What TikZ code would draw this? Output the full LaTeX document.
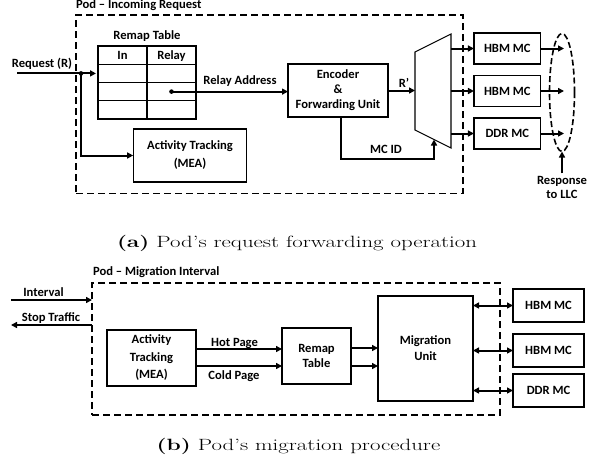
\documentclass[tikz,border=0pt]{standalone}
\usepackage{fontspec}
\newfontfamily\dfont{Carlito}
\usetikzlibrary{arrows.meta,shapes.geometric}
\begin{document}
\begin{tikzpicture}[x=1pt,y=-1pt,
  every node/.style={inner sep=0pt, outer sep=0pt},
  lbl/.style={font=\dfont\bfseries\fontsize{12.6}{15}\selectfont, anchor=base},
  blk/.style={draw, line width=1.1pt, align=center, font=\dfont\bfseries\fontsize{12.6}{15}\selectfont},
  cell/.style={draw, line width=1.1pt, minimum width=49pt, minimum height=18.25pt, text height=8pt, text depth=0pt, font=\dfont\bfseries\fontsize{12.6}{15}\selectfont},
  podbox/.style={draw, line width=1.6pt, dash pattern=on 7pt off 4pt},
  arr/.style={line width=2pt, -{Triangle[length=6pt,width=6pt]}},
  darr/.style={line width=2pt, {Triangle[length=6pt,width=6pt]}-{Triangle[length=6pt,width=6pt]}},
  captext/.style={font=\fontsize{16.3}{19}\selectfont, anchor=base west}
]
\useasboundingbox (0,0) rectangle (591,461);

% ---------------- (a) ----------------
\node[podbox, minimum width=386.7pt, minimum height=178.5pt] (podA) at (269.35,104.25) {};
\node[lbl, anchor=base west] (titleA) at (76,8.5) {Pod – Incoming Request};

\node[lbl] (remapttl) at (147,39) {Remap Table};
\node[cell] (in1) at (122.5,55.1) {In};
\node[cell] (rl1) at (171.5,55.1) {Relay};
\node[cell] (in2) at (122.5,73.4) {};
\node[cell] (rl2) at (171.5,73.4) {};
\node[cell] (in3) at (122.5,91.6) {};
\node[cell] (rl3) at (171.5,91.6) {};
\node[cell] (in4) at (122.5,109.9) {};
\node[cell] (rl4) at (171.5,109.9) {};

\node[lbl] (reqlbl) at (42,67) {Request (R)};
\coordinate (reqin) at (17,73.4);
\coordinate (j1) at (81,73.4);
\draw[arr, shorten >=2pt] (reqin) -- (in2.west);
\fill (j1) circle (2.3pt);

\node[blk, minimum width=113.7pt, minimum height=53pt, font=\dfont\bfseries\fontsize{12.6}{18}\selectfont] (actA) at (190,155.5) {Activity Tracking\\(MEA)};
\draw[arr] (j1) |- (actA.west);

\node[blk, minimum width=100pt, minimum height=53pt] (enc) at (338,90.5) {Encoder\\\&\\Forwarding Unit};
\fill (rl3.center) circle (2.3pt);
\draw[arr] (rl3.center) -- (rl3.center -| enc.west);
\node[lbl] (relaylbl) at (240,84) {Relay Address};

% mux
\coordinate (mtl) at (415,52);
\coordinate (mtr) at (451,34);
\coordinate (mbr) at (451,148);
\coordinate (mbl) at (415,130);
\draw[line width=1.1pt] (mtl) -- (mtr) -- (mbr) -- (mbl) -- cycle;
\coordinate (muxin) at (415,90.5);
\coordinate (muxb) at (434,139.5);
\draw[arr] (enc.east) -- (muxin);
\node[lbl] (rplbl) at (404,87.5) {R’};

\draw[arr] ([xshift=3pt]enc.south) -- ++(0,42) -| (muxb);
\node[lbl] (mcidlbl) at (386,153.5) {MC ID};

% memory controllers
\node[blk, minimum width=66.7pt, minimum height=31pt] (hbmA1) at (507.3,48.5) {HBM MC};
\node[blk, minimum width=66.7pt, minimum height=31pt] (hbmA2) at (507.3,91) {HBM MC};
\node[blk, minimum width=66.7pt, minimum height=31pt] (ddrA) at (507.3,133.5) {DDR MC};
\draw[arr] (hbmA1.west -| mtr) -- (hbmA1.west);
\draw[arr] (hbmA2.west -| mtr) -- (hbmA2.west);
\draw[arr] (ddrA.west -| mtr) -- (ddrA.west);

\node[draw, ellipse, line width=1.6pt, dash pattern=on 6pt off 3pt, minimum width=25pt, minimum height=118pt] (ell) at (562,92.5) {};
\coordinate (e1) at (564,48.5);
\coordinate (e2) at (564,91);
\coordinate (e3) at (564,133.5);
\draw[arr] (hbmA1.east) -- (e1);
\draw[arr] (hbmA2.east) -- (e2);
\draw[arr] (ddrA.east) -- (e3);

\node[lbl, align=center, font=\dfont\bfseries\fontsize{12.6}{14}\selectfont] (resplbl) at (562,198.5) {Response\\to LLC};
\draw[arr, shorten <=3pt] (resplbl.north) -- (ell.south);

\node[captext] (capA) at (117,247) {\scalebox{1.4}[1]{\textbf{(a)} Pod’s request forwarding operation}};

% ---------------- (b) ----------------
\node[podbox, minimum width=408pt, minimum height=132pt] (podB) at (296,349) {};
\node[lbl, anchor=base west] (titleB) at (93,275) {Pod – Migration Interval};

\coordinate (intL) at (11,300);
\coordinate (stopL) at (11,325);
\draw[arr] (intL) -- (intL -| podB.west);
\draw[arr] (stopL -| podB.west) -- (stopL);
\node[lbl] (intlbl) at (43.5,296.5) {Interval};
\node[lbl] (stoplbl) at (51,321) {Stop Traffic};

\node[blk, minimum width=89pt, minimum height=56pt, font=\dfont\bfseries\fontsize{12.6}{17.5}\selectfont] (actB) at (151.5,358) {Activity\\Tracking\\(MEA)};
\node[blk, minimum width=69pt, minimum height=56pt] (remapB) at (316.5,356) {Remap\\Table};
\node[blk, minimum width=95pt, minimum height=105pt, font=\dfont\bfseries\fontsize{12.6}{16}\selectfont] (mig) at (425.5,348.5) {Migration\\Unit};

\draw[arr] ([yshift=9pt]actB.east) -- ([yshift=9pt]actB.east -| remapB.west);
\draw[arr] ([yshift=-8pt]actB.east) -- ([yshift=-8pt]actB.east -| remapB.west);
\node[lbl] (hotlbl) at (234.5,346) {Hot Page};
\node[lbl] (coldlbl) at (234,379.5) {Cold Page};

\draw[arr] ([yshift=8pt]remapB.east) -- ([yshift=8pt]remapB.east -| mig.west);
\draw[arr] ([yshift=-10pt]remapB.east) -- ([yshift=-10pt]remapB.east -| mig.west);

\node[blk, minimum width=71pt, minimum height=33pt] (hbmB1) at (548.5,305.5) {HBM MC};
\node[blk, minimum width=71pt, minimum height=33pt] (hbmB2) at (548.5,350.5) {HBM MC};
\node[blk, minimum width=71pt, minimum height=33pt] (ddrB) at (548.5,390.5) {DDR MC};
\draw[darr] (hbmB1.west -| mig.east) -- (hbmB1.west);
\draw[darr] (hbmB2.west -| mig.east) -- (hbmB2.west);
\draw[darr] (ddrB.west -| mig.east) -- (ddrB.west);

\node[captext] (capB) at (156.7,450.5) {\scalebox{1.4}[1]{\textbf{(b)} Pod’s migration procedure}};
\end{tikzpicture}
\end{document}
